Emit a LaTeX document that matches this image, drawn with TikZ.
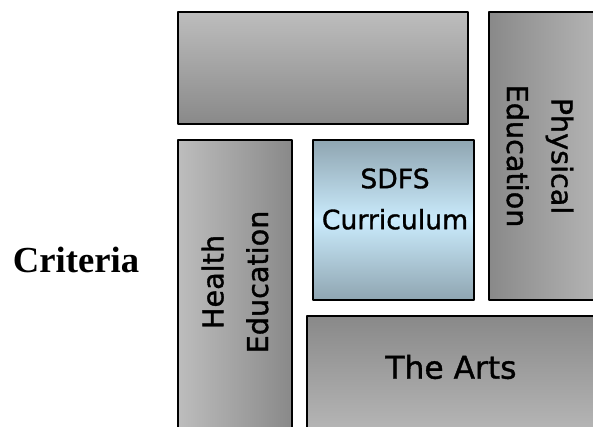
\documentclass[tikz,border=0pt]{standalone}
\usepackage{fontspec}
\setmainfont{Liberation Serif}
\newfontfamily\boxfont[FakeBold=1.2]{DejaVu Sans}
\definecolor{graylight}{HTML}{BDBDBD}
\definecolor{graydark}{HTML}{898989}
\definecolor{steel}{HTML}{8FA5B1}
\definecolor{skyblue}{HTML}{CAEBFC}

\begin{document}
\begin{tikzpicture}[line cap=round,line join=round,x=0.75pt,y=-0.75pt,
    panel/.style={draw=black,line width=1pt},
    boxtext/.style={font=\boxfont\fontsize{21.5}{33.5}\selectfont,align=center,text=black}]

    \useasboundingbox (0,0) rectangle (593,426);
    %\draw [step=10,very thin,gray] (0,0) grid (593,426);

    \draw [panel,top color=graylight,bottom color=graydark] (178,12) rectangle (468,124);
    \draw [panel,left color=graydark,right color=graylight] (489,12) rectangle (620,300);
    \draw [panel,left color=graylight,right color=graydark] (178,140) rectangle (292,450);
    \draw [panel,top color=steel,bottom color=steel,middle color=skyblue] (313,140) rectangle (474,300);
    \draw [panel,top color=graydark,bottom color=graylight] (307,316) rectangle (620,450);

    \node [boxtext,rotate=-90] (physical) at (540,156) {Physical\\Education};
    \node [boxtext,rotate=90] (health) at (235,282) {Health\\Education};
    \node [boxtext,font=\boxfont\fontsize{20}{30.75}\selectfont] (sdfs) at (395,199) {SDFS\\Curriculum};
    \node [boxtext,font=\boxfont\fontsize{23.5}{28}\selectfont] (arts) at (451,367) {The Arts};

    \node [anchor=base,font=\bfseries\fontsize{27.5}{30}\selectfont] (criteria) at (76,272) {Criteria};
\end{tikzpicture}
\end{document}
